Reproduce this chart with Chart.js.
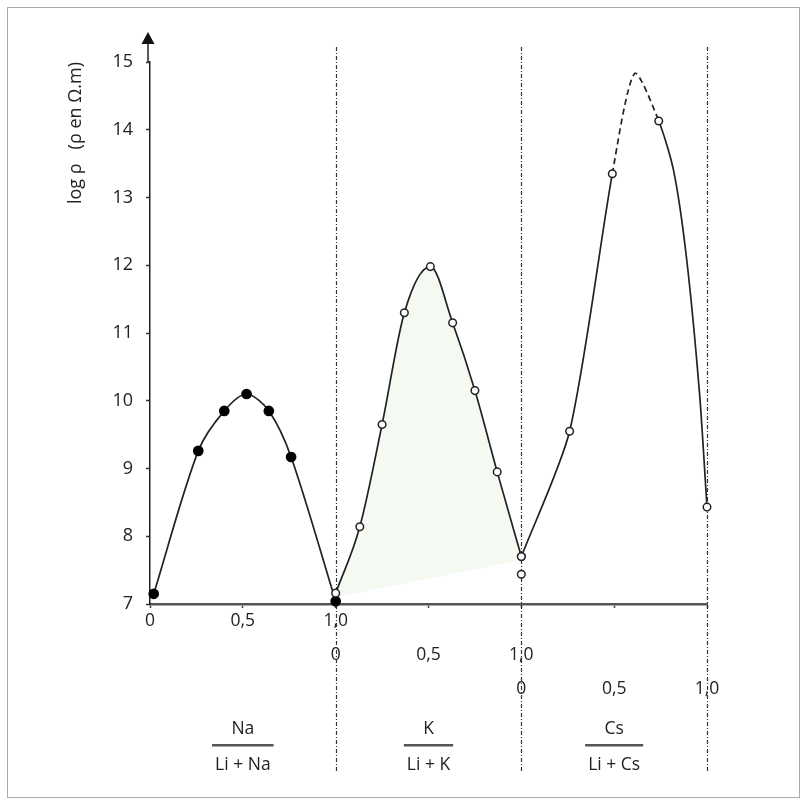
<!DOCTYPE html>
<html>
<head>
<meta charset="utf-8">
<script src="https://cdn.jsdelivr.net/npm/chart.js@4"></script>
<style>
  body { margin: 0; background: #fff; }
  #wrap { width: 807px; height: 805px; }
</style>
</head>
<body>
<div id="wrap"><canvas id="chart" width="807" height="805"></canvas></div>
<script>
// Li/Na series (filled dots)
const naX = [0.02, 0.26, 0.40, 0.52, 0.64, 0.76, 1.0];
const naY = [7.15, 9.26, 9.85, 10.1, 9.85, 9.17, 7.04];

// Li/K series (open dots), shifted by 1 on the shared x axis
const kX = [1.0, 1.13, 1.25, 1.37, 1.51, 1.63, 1.75, 1.87, 2.0];
const kY = [7.16, 8.14, 9.65, 11.3, 11.98, 11.15, 10.15, 8.95, 7.7];
const kLoneX = [2.0];
const kLoneY = [7.44];
// lower edge of the shaded area under K
const shadeX = [1.0, 2.0];
const shadeY = [7.1, 7.65];

// Li/Cs series, shifted by 2; dots only where csDot is true
const csX = [2.0, 2.26, 2.49, 2.61, 2.74, 2.82, 2.89, 2.96, 3.0];
const csY = [7.7, 9.55, 13.35, 14.83, 14.13, 13.4, 12.1, 10.1, 8.43];
const csDot = [true, true, true, false, true, false, false, false, true];
const dashFrom = 2.49, dashTo = 2.74;

const row1 = ['0', '0,5', '1,0', '', '', '', ''];
const row2 = ['', '', '0', '0,5', '1,0', '', ''];
const row3 = ['', '', '', '', '0', '0,5', '1,0'];

const fracCenter = [0.5, 1.5, 2.5];
const fracTop = ['Na', 'K', 'Cs'];
const fracBottom = ['Li + Na', 'Li + K', 'Li + Cs'];
const dividers = [1, 2, 3];

const FONT = "'Open Sans', 'DejaVu Sans', sans-serif";

function pts(xs, ys) {
    return xs.map((x, i) => ({ x: x, y: ys[i] }));
}

const extras = {
    id: 'extras',
    beforeDatasetsDraw(chart) {
        const ctx = chart.ctx;
        const x = chart.scales.x, a = chart.chartArea;
        ctx.save();
        ctx.strokeStyle = '#333';
        ctx.lineWidth = 1.2;
        ctx.setLineDash([4, 2, 1, 2]);
        dividers.forEach(v => {
            const px = Math.round(x.getPixelForValue(v)) + 0.5;
            ctx.beginPath();
            ctx.moveTo(px, a.top - 15);
            ctx.lineTo(px, 772);
            ctx.stroke();
        });
        ctx.restore();
    },
    afterDraw(chart) {
        const ctx = chart.ctx;
        const x = chart.scales.x, a = chart.chartArea;
        ctx.save();
        // y axis arrow
        ctx.strokeStyle = '#222';
        ctx.lineWidth = 1.5;
        ctx.beginPath();
        ctx.moveTo(a.left - 2, a.top);
        ctx.lineTo(a.left - 2, a.top - 22);
        ctx.stroke();
        ctx.fillStyle = '#111';
        ctx.beginPath();
        ctx.moveTo(a.left - 2, a.top - 30);
        ctx.lineTo(a.left - 8.5, a.top - 18);
        ctx.lineTo(a.left + 4.5, a.top - 18);
        ctx.closePath();
        ctx.fill();

        // fractions under the axis
        ctx.font = '17.5px ' + FONT;
        ctx.textAlign = 'center';
        ctx.textBaseline = 'middle';
        fracCenter.forEach((v, i) => {
            const cx = x.getPixelForValue(v);
            const w = ctx.measureText(fracBottom[i]).width + 6;
            ctx.fillStyle = '#222';
            ctx.fillText(fracTop[i], cx, 729);
            ctx.fillText(fracBottom[i], cx, 765);
            ctx.fillStyle = '#555';
            ctx.fillRect(cx - w / 2, 744, w, 2.5);
        });

        // outer frame
        ctx.strokeStyle = '#aaa';
        ctx.lineWidth = 1;
        ctx.strokeRect(7.5, 7.5, 792, 790);
        ctx.restore();
    }
};

const csDashed = ctx => (ctx.p0.parsed.x >= dashFrom - 1e-6 && ctx.p1.parsed.x <= dashTo + 1e-6) ? [6, 4] : undefined;

new Chart(document.getElementById('chart'), {
    type: 'line',
    data: {
        datasets: [
            {
                data: pts(shadeX, shadeY),
                borderWidth: 0,
                pointRadius: 0,
                showLine: false,
                fill: false
            },
            {
                data: pts(kX, kY),
                borderColor: '#222',
                borderWidth: 1.7,
                cubicInterpolationMode: 'monotone',
                pointRadius: 3.8,
                pointBorderWidth: 1.5,
                pointBackgroundColor: '#fff',
                pointBorderColor: '#222',
                fill: { target: 0 },
                backgroundColor: 'rgba(236,245,232,0.6)'
            },
            {
                data: pts(kLoneX, kLoneY),
                showLine: false,
                pointRadius: 3.8,
                pointBorderWidth: 1.5,
                pointBackgroundColor: '#fff',
                pointBorderColor: '#222'
            },
            {
                data: pts(naX, naY),
                borderColor: '#222',
                borderWidth: 1.7,
                tension: 0.3,
                pointRadius: 4.5,
                pointBackgroundColor: '#000',
                pointBorderColor: '#000',
                fill: false
            },
            {
                data: pts(csX, csY),
                borderColor: '#222',
                borderWidth: 1.7,
                tension: 0.25,
                pointRadius: csDot.map(d => d ? 3.8 : 0),
                pointBorderWidth: 1.5,
                pointBackgroundColor: '#fff',
                pointBorderColor: '#222',
                segment: { borderDash: csDashed },
                fill: false
            }
        ]
    },
    options: {
        responsive: false,
        animation: false,
        clip: false,
        layout: { padding: { top: 62, right: 100, left: 0, bottom: 0 } },
        plugins: {
            legend: { display: false },
            tooltip: { enabled: false }
        },
        scales: {
            x: {
                type: 'linear',
                min: 0,
                max: 3,
                afterFit: function (scale) { scale.height = 201; },
                border: { color: '#555', width: 2.5 },
                grid: { drawOnChartArea: false, tickLength: 4, tickColor: '#444', tickWidth: 1.5 },
                ticks: {
                    stepSize: 0.5,
                    padding: -4,
                    color: '#222',
                    font: { family: FONT, size: 17.5, lineHeight: '34px' },
                    maxRotation: 0,
                    autoSkip: false,
                    callback: function (value, index) {
                        return [row1[index], row2[index], row3[index]];
                    }
                }
            },
            y: {
                min: 7,
                max: 15,
                afterFit: function (scale) { scale.width = 150; },
                border: { color: '#222', width: 1.5 },
                grid: { drawOnChartArea: false, tickLength: 4, tickColor: '#333', tickWidth: 1.5 },
                ticks: {
                    stepSize: 1,
                    padding: 13,
                    color: '#222',
                    font: { family: FONT, size: 18 }
                },
                title: {
                    display: true,
                    text: 'log ρ   (ρ en Ω.m)',
                    align: 'end',
                    color: '#222',
                    font: { family: FONT, size: 18 },
                    padding: { top: 65, bottom: 0 }
                }
            }
        }
    },
    plugins: [extras]
});
</script>
</body>
</html>
